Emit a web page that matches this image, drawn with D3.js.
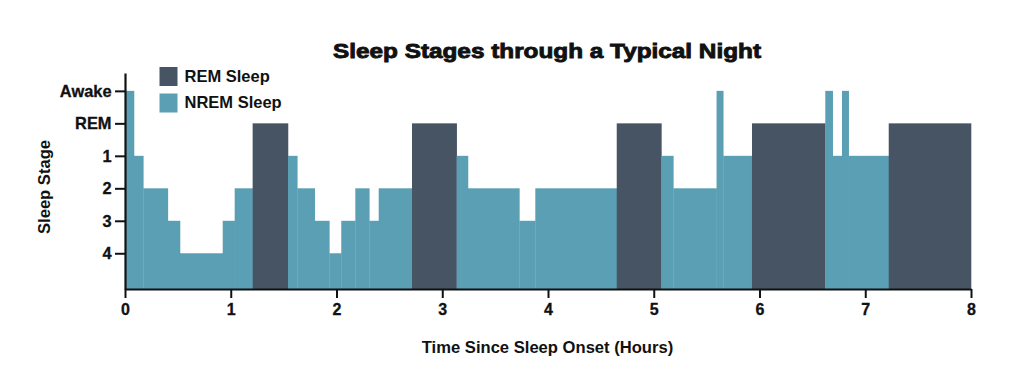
<!DOCTYPE html>
<html>
<head>
<meta charset="utf-8">
<script src="https://cdn.jsdelivr.net/npm/d3@7"></script>
<style>
  html, body { margin: 0; padding: 0; background: #ffffff; }
  svg { display: block; }
  text { font-family: "Liberation Sans", Arial, sans-serif; font-weight: bold; fill: #111; }
</style>
</head>
<body>
<svg id="chart" width="1024" height="391"></svg>
<script>
// ---- data ----
const stageLabels = ["4", "3", "2", "1", "REM", "Awake"];   // bottom to top
const xTickValues = [0, 1, 2, 3, 4, 5, 6, 7, 8];
const segStart = [0, 0.085, 0.173, 0.405, 0.52, 0.924, 1.037, 1.207, 1.541, 1.629, 1.794, 1.932, 2.045, 2.178, 2.31, 2.399, 2.714, 3.136, 3.243, 3.729, 3.88, 4.65, 5.072, 5.185, 5.594, 5.657, 5.929, 6.622, 6.692, 6.78, 6.843, 7.222];
const segEnd   = [0.085, 0.173, 0.405, 0.52, 0.924, 1.037, 1.207, 1.541, 1.629, 1.794, 1.932, 2.045, 2.178, 2.31, 2.399, 2.714, 3.136, 3.243, 3.729, 3.88, 4.65, 5.072, 5.185, 5.594, 5.657, 5.929, 6.622, 6.692, 6.78, 6.843, 7.222, 8];
const segStage = ["Awake", "1", "2", "3", "4", "3", "2", "REM", "1", "2", "3", "4", "3", "2", "3", "2", "REM", "1", "2", "3", "2", "REM", "1", "2", "Awake", "1", "REM", "Awake", "1", "Awake", "1", "REM"];
const legendLabels = ["REM Sleep", "NREM Sleep"];

const colors = { REM: "#475464", NREM: "#5a9fb3" };

// ---- layout ----
const svg = d3.select("#chart");
const x = d3.scaleLinear().domain([0, 8]).range([125, 971]);
const stageIndex = s => stageLabels.indexOf(s) + 1;   // 4 ->1 ... Awake ->6
const y = d3.scaleLinear().domain([-0.1, 6.55]).range([289, 73]);

const segments = segStart.map((s, i) => ({ start: s, end: segEnd[i], stage: segStage[i] }));

// bars
svg.append("g").selectAll("rect")
  .data(segments)
  .join("rect")
  .attr("x", d => x(d.start))
  .attr("width", d => x(d.end) - x(d.start) + 0.3)
  .attr("y", d => y(stageIndex(d.stage)))
  .attr("height", d => y(-0.1) - y(stageIndex(d.stage)))
  .attr("fill", d => d.stage === "REM" ? colors.REM : colors.NREM);

// x axis
const xAxis = d3.axisBottom(x).tickValues(xTickValues).tickFormat(d3.format("d")).tickSize(9).tickSizeOuter(0);
const gx = svg.append("g").attr("transform", "translate(0,289)").call(xAxis);
gx.select(".domain").attr("stroke", "#111").attr("stroke-width", 2.2);
gx.selectAll(".tick line").attr("stroke", "#111").attr("stroke-width", 2);
gx.selectAll(".tick text").attr("font-size", "16px").attr("font-family", "Liberation Sans, Arial, sans-serif")
  .attr("font-weight", "bold").attr("fill", "#111").attr("y", 15).attr("dy", "0.71em")
  .attr("stroke", "#111").attr("stroke-width", 0.3);

// y axis
const yAxis = d3.axisLeft(y).tickValues(stageLabels.map((s, i) => i + 1))
  .tickFormat(v => stageLabels[v - 1]).tickSize(10).tickSizeOuter(0);
const gy = svg.append("g").attr("transform", "translate(125,0)").call(yAxis);
gy.select(".domain").attr("stroke", "#111").attr("stroke-width", 2.2);
gy.selectAll(".tick line").attr("stroke", "#111").attr("stroke-width", 2);
gy.selectAll(".tick text").attr("font-size", "16.4px").attr("font-family", "Liberation Sans, Arial, sans-serif")
  .attr("font-weight", "bold").attr("fill", "#111").attr("x", -13.5)
  .attr("stroke", "#111").attr("stroke-width", 0.3);

// title
svg.append("text")
  .attr("x", 547).attr("y", 57.5)
  .attr("text-anchor", "middle")
  .attr("font-size", "21px")
  .attr("textLength", 428).attr("lengthAdjust", "spacingAndGlyphs")
  .attr("stroke", "#111").attr("stroke-width", 0.9)
  .text("Sleep Stages through a Typical Night");

// axis titles
svg.append("text")
  .attr("x", 547.5).attr("y", 352.5)
  .attr("text-anchor", "middle")
  .attr("font-size", "16.6px")
  .text("Time Since Sleep Onset (Hours)");

svg.append("text")
  .attr("transform", "translate(49.5,187) rotate(-90)")
  .attr("text-anchor", "middle")
  .attr("font-size", "16.6px")
  .text("Sleep Stage");

// legend
const legend = svg.append("g").selectAll("g")
  .data(legendLabels)
  .join("g")
  .attr("transform", (d, i) => `translate(159.5,${67 + i * 26.5})`);
legend.append("rect")
  .attr("width", 18).attr("height", 19)
  .attr("fill", (d, i) => i === 0 ? colors.REM : colors.NREM);
legend.append("text")
  .attr("x", 25).attr("y", 14.7)
  .attr("font-size", "16.5px")
  .text(d => d);
</script>
</body>
</html>
